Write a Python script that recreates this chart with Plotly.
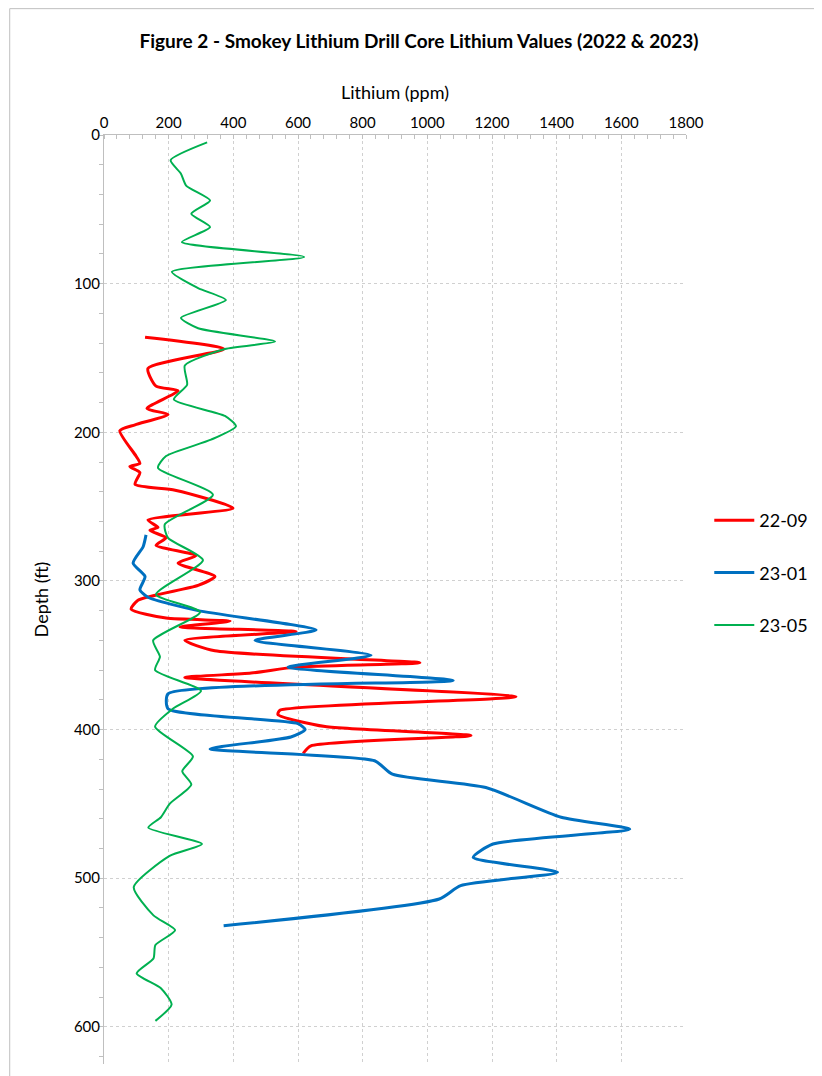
import plotly.graph_objects as go

# 22-09
red_x = [127,371,136,161,229,133,198,96,49,99,111,80,111,96,220,399,136,167,142,192,161,285,229,343,291,105,84,192,390,235,594,250,343,977,594,455,250,1274,544,538,684,1135,640,616]
red_y = [136,144,157,169,172,184,188,195,199,216,221,223,227,235,239,251,259,264,266,271,276,283,288,297,303,313,319,325,327,331,334,340,347,355,358,362,365,378,387,390,398,404,411,416]

# 23-01
blue_x = [130,121,90,127,111,136,291,656,467,826,569,1080,198,198,600,622,578,328,837,892,1181,1414,1626,1203,1142,1403,1103,1037,370]
blue_y = [269,277,288,297,306,311,320,333,340,350,358,367,376,386,396,400,405,413,421,430,439,459,467,477,486,496,505,514,532]

# 23-05
green_x = [319,206,238,254,328,270,328,241,619,210,291,377,238,291,529,374,250,257,216,374,408,331,192,167,337,188,198,306,161,297,152,173,158,300,213,158,275,242,270,203,176,137,303,203,92,153,220,159,153,101,176,209,159]
green_y = [5,17,26,34,44,53,62,72,82,92,103,111,123,130,139,144,155,168,178,189,196,205,216,224,242,262,271,286,309,321,340,351,360,374,386,398,418,428,437,450,459,466,477,485,506,525,535,545,554,564,574,585,596]

x_ticks = list(range(0, 2000, 200))
y_ticks = list(range(0, 700, 100))

fig = go.Figure()
fig.add_trace(go.Scatter(x=red_x, y=red_y, name="22-09", mode="lines", legendgroup="a",
                         line=dict(color="#FF0000", width=3, shape="spline", smoothing=0.6)))
fig.add_trace(go.Scatter(x=blue_x, y=blue_y, name="23-01", mode="lines", legendgroup="b",
                         line=dict(color="#0070C0", width=3, shape="spline", smoothing=0.6)))
fig.add_trace(go.Scatter(x=green_x, y=green_y, name="23-05", mode="lines", legendgroup="c",
                         line=dict(color="#00B050", width=2, shape="spline", smoothing=0.6)))

fig.update_layout(
    width=822, height=1076,
    paper_bgcolor="white", plot_bgcolor="white",
    margin=dict(l=96, r=144, t=127, b=20, autoexpand=False),
    font=dict(family="Lato, Liberation Sans, sans-serif", size=15, color="#000"),
    title=dict(text="<b>Figure 2 - Smokey Lithium Drill Core Lithium Values (2022 &amp; 2023)</b>",
               x=0.5, xanchor="center", y=0.975, font=dict(size=19)),
    legend=dict(x=1.04, y=0.605, yanchor="top", font=dict(size=18),
                tracegroupgap=26, itemwidth=40, bgcolor="rgba(0,0,0,0)"),
    shapes=[dict(type="rect", xref="paper", yref="paper", x0=-0.162, x1=1.245, y0=-0.019, y1=1.136,
                 line=dict(color="#BFBFBF", width=1))],
)
fig.update_xaxes(side="top", range=[0, 1800], tickvals=x_ticks, ticklen=0, automargin=False,
                 title=dict(text="Lithium (ppm)", font=dict(size=18), standoff=8),
                 showgrid=True, gridcolor="#D0D0D0", griddash="dot", gridwidth=1,
                 showline=True, linecolor="#BFBFBF", mirror=False, zeroline=False,
                 minor=dict(dtick=40, ticklen=4, tickcolor="#BFBFBF", ticks="inside", showgrid=False))
fig.update_yaxes(range=[625, 0], tickvals=y_ticks, ticklen=0, automargin=False,
                 title=dict(text="Depth (ft)", font=dict(size=18), standoff=20),
                 showgrid=True, gridcolor="#D0D0D0", griddash="dot", gridwidth=1,
                 showline=True, linecolor="#BFBFBF", zeroline=False,
                 minor=dict(dtick=20, ticklen=4, tickcolor="#BFBFBF", ticks="outside", showgrid=False))

fig.write_html("out.html")
